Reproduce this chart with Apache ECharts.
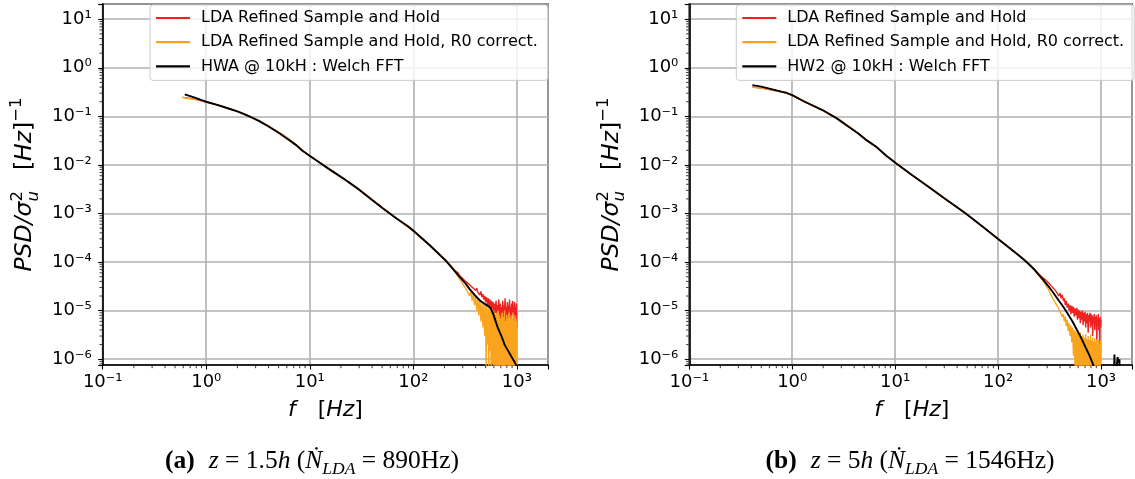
<!DOCTYPE html>
<html><head><meta charset="utf-8">
<script src="https://cdn.jsdelivr.net/npm/echarts@6/dist/echarts.min.js"></script>
<style>html,body{margin:0;padding:0;background:#fff}#c{width:1135px;height:479px}</style>
</head><body><div id="c"></div>
<script>
// ---------- DATA ----------
const nameRed = 'LDA Refined Sample and Hold';
const nameOrange = 'LDA Refined Sample and Hold, R0 correct.';
const nameHwA = 'HWA @ 10kH : Welch FFT';
const nameHwB = 'HW2 @ 10kH : Welch FFT';

// (a) z = 1.5h
const hwaA = [[0.62,0.283],[0.7,0.262],[0.8,0.237],[0.9,0.216],[1.0,0.200],[1.3,0.171],[1.7,0.142],[2.0,0.127],[2.35,0.110],[2.8,0.093],[3.25,0.080],[4.0,0.062],[5.0,0.046],[6.2,0.0335],[7.5,0.025],[8.5,0.0196],[10.3,0.0148],[12,0.0118],[15,0.0085],[21,0.0053],[30,0.0031],[40,0.0019],[51,0.00127],[70,0.00077],[89.5,0.00054],[103,0.00042],[145,0.00022],[205,0.000108],[250,6.6e-5],[282,4.9e-5],[320,3.6e-5],[352,2.75e-5],[400,2.0e-5],[439,1.62e-5],[490,1.38e-5],[528,1.24e-5],[560,1.12e-5],[590,8.7e-6],[620,6.3e-6],[659,4.3e-6],[710,3.0e-6],[765,1.95e-6],[830,1.45e-6],[888,1.12e-6],[950,8.8e-7],[1000,7.0e-7]];
const ldaLowA = [[0.59,0.246],[0.7,0.234],[0.8,0.221],[0.9,0.208],[1.0,0.197],[1.3,0.170],[1.7,0.142],[2.0,0.127],[2.35,0.111],[2.8,0.094],[3.25,0.081],[4.0,0.063],[5.0,0.047],[5.6,0.040],[6.2,0.035],[7.5,0.025],[8.5,0.0198],[10.3,0.0146],[12,0.0119],[15,0.0086],[21,0.0053],[30,0.0031],[40,0.00193],[51,0.00128],[70,0.00077],[89.5,0.00052],[103,0.00041],[145,0.00022],[180,0.000143],[209,0.000105],[235,8.0e-5],[250,6.8e-5]];
const redTailA = [[260,6.4e-5],[270,6.0e-5],[280,5.3e-5],[290,5.2e-5],[300,4.6e-5],[310,4.5e-5],[320,4.0e-5],[330,4.1e-5],[340,3.6e-5],[350,3.7e-5],[360,3.2e-5],[370,3.4e-5],[380,2.9e-5],[390,3.1e-5],[400,2.6e-5],[410,2.9e-5],[420,2.4e-5],[430,2.6e-5],[440,2.1e-5],[450,2.5e-5],[460,1.9e-5],[470,2.2e-5],[480,1.7e-5],[490,2.0e-5],[500,1.5e-5],[510,1.9e-5],[520,1.3e-5],[530,1.8e-5],[540,1.2e-5],[550,1.7e-5],[560,1.05e-5],[570,1.6e-5],[580,1.1e-5],[590,1.5e-5],[600,8.5e-6],[610,1.4e-5],[620,9e-6],[630,1.6e-5],[640,7.5e-6],[650,1.3e-5],[660,1.0e-5],[670,1.7e-5],[680,8e-6],[690,1.4e-5],[700,6.5e-6],[710,1.2e-5],[720,9e-6],[730,1.6e-5],[740,7e-6],[750,1.3e-5],[760,1.05e-5],[770,1.8e-5],[780,6e-6],[790,1.2e-5],[800,8.5e-6],[810,1.5e-5],[820,6.5e-6],[830,1.3e-5],[840,1.0e-5],[850,1.7e-5],[860,7e-6],[870,1.2e-5],[880,5e-6],[890,1.4e-5],[900,8e-6],[910,1.6e-5],[920,9.5e-6],[930,1.3e-5],[940,6e-6],[950,1.5e-5],[960,8e-6],[970,1.2e-5],[980,5.5e-6],[990,1.4e-5],[1000,4.5e-6]];
const orangeTailA = [[260,5.8e-5],[270,5.0e-5],[280,4.6e-5],[290,4.0e-5],[300,3.8e-5],[310,3.2e-5],[320,3.1e-5],[330,2.6e-5],[340,2.8e-5],[350,2.0e-5],[360,2.5e-5],[370,1.6e-5],[380,2.2e-5],[390,1.3e-5],[400,2.0e-5],[410,1.0e-5],[420,1.8e-5],[430,8e-6],[440,1.7e-5],[450,6e-6],[460,1.5e-5],[470,4.5e-6],[480,1.4e-5],[490,3e-6],[500,1.3e-5],[505,5e-7],[510,1.2e-5],[520,2e-6],[530,1.1e-5],[535,4e-7],[540,1.2e-5],[550,1.5e-6],[560,1.0e-5],[565,3e-7],[570,1.1e-5],[580,8e-7],[590,9e-6],[595,3e-7],[600,1.0e-5],[610,5e-7],[620,8.5e-6],[630,3e-7],[640,9e-6],[650,6e-7],[660,1.0e-5],[670,3e-7],[680,8e-6],[690,5e-7],[700,7e-6],[710,3e-7],[720,9e-6],[730,4e-7],[740,7.5e-6],[750,3e-7],[760,1.0e-5],[770,5e-7],[780,6e-6],[790,3e-7],[800,8e-6],[810,4e-7],[820,7e-6],[830,3e-7],[840,9e-6],[850,5e-7],[860,6.5e-6],[870,3e-7],[880,8e-6],[890,4e-7],[900,7e-6],[910,3e-7],[920,9e-6],[930,5e-7],[940,6e-6],[950,3e-7],[960,8e-6],[970,4e-7],[980,7e-6],[990,3e-7],[1000,6e-6]];

// (b) z = 5h
const hw2B = [[0.41,0.44],[0.5,0.41],[0.64,0.36],[0.8,0.32],[0.88,0.306],[1.0,0.274],[1.32,0.20],[1.96,0.135],[2.71,0.091],[3.5,0.062],[4.38,0.0446],[5.3,0.032],[6.54,0.0237],[8.2,0.0155],[10.2,0.0108],[14,0.0066],[21.7,0.0034],[30,0.00207],[48.5,0.00100],[72,0.00052],[100,0.000300],[130,0.000193],[157,0.000140],[175,0.000116],[190,9.9e-5],[210,8.1e-5],[227,6.8e-5],[250,5.4e-5],[270,4.5e-5],[306,3.25e-5],[340,2.42e-5],[382,1.70e-5],[430,1.2e-5],[477,8.5e-6],[530,5.9e-6],[574,4.3e-6],[630,2.95e-6],[690,1.98e-6],[771,1.2e-6],[830,8.2e-7],[900,5.0e-7],[1000,2.6e-7],[1200,1.5e-7],[1330,2.5e-7],[1350,1.25e-6],[1370,4.5e-7],[1420,7e-7],[1450,1.1e-6],[1480,8.5e-7],[1510,1.0e-6],[1530,3e-7]];
const ldaLowB = [[0.41,0.40],[0.5,0.385],[0.64,0.35],[0.8,0.318],[0.88,0.302],[1.0,0.272],[1.32,0.201],[1.96,0.137],[2.71,0.092],[3.5,0.063],[4.38,0.045],[5.3,0.0325],[6.54,0.0236],[8.2,0.0157],[10.2,0.0107],[14,0.0066],[21.7,0.00342],[30,0.00208],[48.5,0.00101],[72,0.000522],[100,0.000302],[130,0.000195],[157,0.000142],[190,0.000101],[227,7.0e-5]];
const redTailB = [[240,6.2e-5],[250,5.6e-5],[260,5.5e-5],[270,4.8e-5],[280,4.9e-5],[290,4.3e-5],[300,4.4e-5],[310,3.7e-5],[320,3.8e-5],[330,3.2e-5],[340,3.4e-5],[350,2.8e-5],[360,3.0e-5],[370,2.4e-5],[380,2.6e-5],[390,2.0e-5],[400,2.3e-5],[410,1.8e-5],[420,2.1e-5],[430,1.6e-5],[440,1.8e-5],[450,1.3e-5],[460,1.6e-5],[470,1.15e-5],[480,1.4e-5],[490,1.0e-5],[500,1.3e-5],[510,8.5e-6],[520,1.25e-5],[530,9e-6],[540,1.2e-5],[550,7.5e-6],[560,1.1e-5],[570,8e-6],[580,1.15e-5],[590,6.5e-6],[600,1.05e-5],[610,7e-6],[620,1.0e-5],[630,5.5e-6],[640,9.5e-6],[650,6.5e-6],[660,1.0e-5],[670,5e-6],[680,9e-6],[690,6e-6],[700,9.5e-6],[710,4.5e-6],[720,8.5e-6],[730,5.5e-6],[740,9e-6],[750,3.5e-6],[760,8e-6],[770,6e-6],[780,9e-6],[790,4.5e-6],[800,8.5e-6],[810,5e-6],[820,8e-6],[830,3e-6],[840,7.5e-6],[850,5.5e-6],[860,8.5e-6],[870,4e-6],[880,7.5e-6],[890,5e-6],[900,8e-6],[910,2.2e-6],[920,7e-6],[930,5e-6],[940,8.5e-6],[950,4e-6],[960,7e-6],[970,2e-6],[980,7.5e-6],[990,4.5e-6],[1000,6.5e-6]];
const orangeTailB = [[240,5.9e-5],[250,5.2e-5],[260,4.8e-5],[270,4.2e-5],[280,3.8e-5],[290,3.4e-5],[300,3.0e-5],[310,2.7e-5],[320,2.3e-5],[330,2.2e-5],[340,1.8e-5],[350,1.75e-5],[360,1.45e-5],[370,1.5e-5],[380,1.2e-5],[390,1.2e-5],[400,9.5e-6],[410,1.0e-5],[420,7.5e-6],[430,8.5e-6],[440,6e-6],[450,7.5e-6],[460,4.8e-6],[470,6.5e-6],[480,3.8e-6],[490,5.5e-6],[500,3e-6],[510,5e-6],[520,2.2e-6],[530,4.5e-6],[540,1.2e-6],[550,4e-6],[560,5e-7],[570,3.8e-6],[580,3e-7],[590,3.5e-6],[600,4e-7],[610,3.3e-6],[620,3e-7],[630,3.6e-6],[640,4e-7],[650,3e-6],[660,3e-7],[670,3.2e-6],[680,4e-7],[690,2.8e-6],[700,3e-7],[710,3.3e-6],[720,4e-7],[730,2.6e-6],[740,3e-7],[750,3e-6],[760,4e-7],[770,2.5e-6],[780,3e-7],[790,3.2e-6],[800,4e-7],[810,2.4e-6],[820,3e-7],[830,2.8e-6],[840,4e-7],[850,2.3e-6],[860,3e-7],[870,2.7e-6],[880,4e-7],[890,2.2e-6],[900,3e-7],[910,2.6e-6],[920,4e-7],[930,2.1e-6],[940,3e-7],[950,2.5e-6],[960,4e-7],[970,2.0e-6],[980,3e-7],[990,2.4e-6],[1000,1.5e-6]];

// axis ranges and tick values
const xRange = [0.1, 2000];
const yRange = [7.6e-7, 20.6];
const xDecades = [0.1, 1, 10, 100, 1000];
const yDecades = [1e-7, 1e-6, 1e-5, 1e-4, 1e-3, 1e-2, 1e-1, 1, 10];
const minorMultipliers = [2, 3, 4, 5, 6, 7, 8, 9];

// ---------- CHART ----------
const chart = echarts.init(document.getElementById('c'), null, {renderer:'canvas'});
const SUP = {'-':'\u207B','0':'\u2070','1':'\u00B9','2':'\u00B2','3':'\u00B3','4':'\u2074','5':'\u2075','6':'\u2076','7':'\u2077','8':'\u2078','9':'\u2079'};
function powLabel(v){
  const e = Math.log10(v), r = Math.round(e);
  if (Math.abs(e - r) > 1e-6) return '';
  return '10' + String(r).split('').map(c => SUP[c]).join('');
}
function minorVals(decades, range){
  const out = [];
  decades.forEach(d => minorMultipliers.forEach(m => { const v = d*m; if (v > range[0] && v < range[1]) out.push(v); }));
  return out;
}
const xMinor = minorVals(xDecades, xRange);
const yMinor = minorVals(yDecades, yRange);

const COL_RED = '#ee2222', COL_OR = '#f9a41c', COL_BK = '#000000';
const grids = [
  {left:102.7, top:4, width:445.3, height:361},
  {left:689.3, top:4, width:445, height:361}
];
function xAx(gi){
  return {type:'log', gridIndex:gi, min:xRange[0], max:xRange[1], logBase:10,
    axisLine:{show:true, onZero:false, lineStyle:{color:'#000', width:1.6}},
    axisTick:{show:true, length:4.5, lineStyle:{color:'#000', width:1.1}},
    minorTick:{show:false},
    axisLabel:{formatter:powLabel, fontFamily:'DejaVu Sans', fontSize:18, color:'#000', margin:8},
    splitLine:{show:true, lineStyle:{color:'#b0b0b0', width:1.6}},
    minorSplitLine:{show:false}};
}
function yAx(gi){
  return {type:'log', gridIndex:gi, min:yRange[0], max:yRange[1], logBase:10,
    axisLine:{show:true, onZero:false, lineStyle:{color:'#000', width:1.6}},
    axisTick:{show:true, length:4.5, lineStyle:{color:'#000', width:1.1}},
    minorTick:{show:false},
    axisLabel:{formatter:powLabel, fontFamily:'DejaVu Sans', fontSize:18, color:'#000', margin:11},
    splitLine:{show:true, lineStyle:{color:'#b0b0b0', width:1.6}},
    minorSplitLine:{show:false}};
}
function line(name, data, color, w, gi){
  return {type:'line', name, data, xAxisIndex:gi, yAxisIndex:gi, showSymbol:false, symbol:'none',
    color, lineStyle:{color, width:w}, clip:true, animation:false, silent:true};
}
// minor ticks (matplotlib-style 2..9 x 10^n) positioned through the axes' own scales
function minorTicks(gi, isX){
  const data = isX ? xMinor.map(v => [v, yRange[0]]) : yMinor.map(v => [xRange[0], v]);
  return {type:'custom', xAxisIndex:gi, yAxisIndex:gi, data, silent:true, clip:false, z:5, animation:false,
    renderItem:(params, api) => {
      const p = api.coord([api.value(0), api.value(1)]);
      const shape = isX ? {x1:p[0], y1:p[1]+0.8, x2:p[0], y2:p[1]+3.2} : {x1:p[0]-0.8, y1:p[1], x2:p[0]-3.2, y2:p[1]};
      return {type:'line', shape, style:{stroke:'#000', lineWidth:0.8}};
    }};
}
const series = [
  line(nameRed, ldaLowA.concat(redTailA), COL_RED, 1.4, 0),
  line(nameOrange, ldaLowA.concat(orangeTailA), COL_OR, 1.4, 0),
  line(nameHwA, hwaA, COL_BK, 1.9, 0),
  line(nameRed, ldaLowB.concat(redTailB), COL_RED, 1.4, 1),
  line(nameOrange, ldaLowB.concat(orangeTailB), COL_OR, 1.4, 1),
  line(nameHwB, hw2B, COL_BK, 1.9, 1),
  minorTicks(0, true), minorTicks(0, false), minorTicks(1, true), minorTicks(1, false)
];
function legendCfg(left, names){
  return {left, top:5, orient:'vertical', data:names, icon:'rect', itemWidth:34, itemHeight:2.2, itemGap:6.2,
    padding:[4,10,5,6], backgroundColor:'rgba(255,255,255,0.8)', borderColor:'#cccccc', borderWidth:1, borderRadius:3,
    selectedMode:false, textStyle:{fontFamily:'DejaVu Sans', fontSize:16, color:'#000', lineHeight:18, padding:[0,0,0,6]}};
}

// text layout helper for math-like labels
const mctx = document.createElement('canvas').getContext('2d');
function fontStr(p){ return (p.italic?'italic ':'') + (p.bold?'bold ':'') + p.size + 'px "' + (p.family||'DejaVu Sans') + '"'; }
function txt(p, x){
  return {type:'text', x:x, y:(p.dy||0) - 0.34*p.size, silent:true,
    style:{text:p.t, fontSize:p.size, fontFamily:p.family||'DejaVu Sans', fontStyle:p.italic?'italic':'normal',
      fontWeight:p.bold?'bold':'normal', fill:'#000', align:'left', verticalAlign:'middle'}};
}
function layout(pieces){
  let x = 0; const els = [];
  for (const p of pieces){
    if (p.gap !== undefined){ x += p.gap; continue; }
    if (p.stack){
      let w = 0;
      for (const q of p.stack){ mctx.font = fontStr(q); w = Math.max(w, mctx.measureText(q.t).width); els.push(txt(q, x)); }
      x += w; continue;
    }
    mctx.font = fontStr(p);
    els.push(txt(p, x));
    x += mctx.measureText(p.t).width;
  }
  return {els, width:x};
}
function yLabel(gx, gy){
  const S = 23.5, s2 = 16.5;
  const L = layout([
    {t:'PSD/\u03C3', italic:true, size:S},
    {stack:[{t:'2', size:s2, dy:-0.42*S}, {t:'u', italic:true, size:s2, dy:0.26*S}]},
    {gap:21},
    {t:'[', size:S}, {t:'Hz', italic:true, size:S}, {t:']', size:S},
    {t:'\u22121', size:s2, dy:-0.45*S}
  ]);
  L.els.forEach(e => { e.x -= L.width/2; });
  return {type:'group', x:gx, y:gy, rotation:Math.PI/2, children:L.els};
}
function xLabel(cx, by){
  const S = 22;
  const L = layout([
    {t:'f', italic:true, size:S}, {gap:22},
    {t:'[', size:S}, {t:'Hz', italic:true, size:S}, {t:']', size:S}
  ]);
  return {type:'group', x:cx - L.width/2, y:by, children:L.els};
}
function caption(cx, by, tag, zval, nval){
  const CF = 'Liberation Serif', C = 25.5;
  const L = layout([
    {t:'('+tag+')', bold:true, size:C, family:CF}, {gap:14},
    {t:'z', italic:true, size:C, family:CF}, {t:' = ', size:C, family:CF},
    {t:zval, size:C, family:CF}, {t:'h', italic:true, size:C, family:CF},
    {t:' (', size:C, family:CF}, {t:'N\u0307', italic:true, size:C, family:CF},
    {t:'LDA', italic:true, size:17.5, family:CF, dy:0.22*C},
    {t:' = '+nval+'Hz)', size:C, family:CF}
  ]);
  return {type:'group', x:cx - L.width/2, y:by, children:L.els};
}

chart.setOption({
  animation:false,
  backgroundColor:'#ffffff',
  grid: grids.map(g => Object.assign({show:true, borderColor:'#000', borderWidth:1.6, backgroundColor:'transparent'}, g)),
  xAxis:[xAx(0), xAx(1)],
  yAxis:[yAx(0), yAx(1)],
  legend:[legendCfg(150, [nameRed, nameOrange, nameHwA]), legendCfg(736.3, [nameRed, nameOrange, nameHwB])],
  series,
  graphic:[
    yLabel(33, 184.5), yLabel(619.5, 184.5),
    xLabel(325.4, 418), xLabel(911.8, 418),
    caption(312, 470, 'a', '1.5', '890'), caption(910, 470, 'b', '5', '1546')
  ]
});
</script>
</body></html>
